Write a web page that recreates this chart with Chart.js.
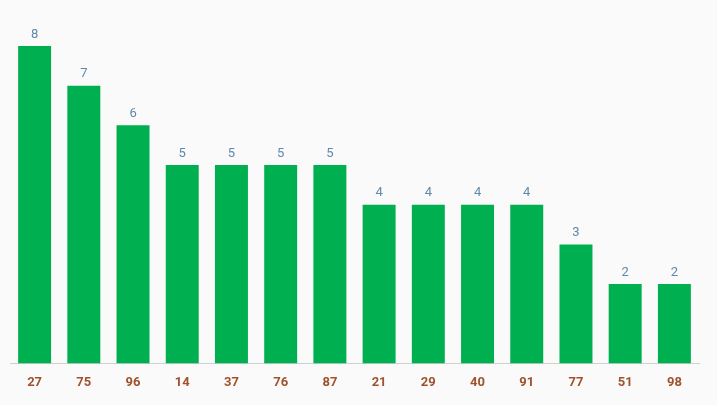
<!DOCTYPE html>
<html>
<head>
<meta charset="utf-8">
<script src="https://cdn.jsdelivr.net/npm/chart.js@4/dist/chart.umd.min.js"></script>
<style>
html,body{margin:0;padding:0;background:#fafafa;}
#wrap{width:717px;height:405px;position:relative;}
</style>
</head>
<body>
<div id="wrap"><canvas id="c"></canvas></div>
<script>
const categories = ["27","75","96","14","37","76","87","21","29","40","91","77","51","98"];
const values = [8,7,6,5,5,5,5,4,4,4,4,3,2,2];

const valueLabels = {
  id: 'valueLabels',
  afterDatasetsDraw(chart) {
    const ctx = chart.ctx;
    const meta = chart.getDatasetMeta(0);
    ctx.save();
    ctx.fillStyle = '#5f89ab';
    ctx.font = '13px Roboto';
    ctx.textAlign = 'center';
    ctx.textBaseline = 'bottom';
    meta.data.forEach((bar, i) => {
      ctx.fillText(String(chart.data.datasets[0].data[i]), bar.x, bar.y - 5);
    });
    ctx.restore();
  }
};

new Chart(document.getElementById('c'), {
  type: 'bar',
  data: {
    labels: categories,
    datasets: [{
      data: values,
      backgroundColor: '#00b050',
      borderWidth: 0,
      categoryPercentage: 1,
      barPercentage: 0.67
    }]
  },
  options: {
    responsive: true,
    maintainAspectRatio: false,
    animation: false,
    layout: { padding: { top: 46, left: 10, right: 18, bottom: 10 } },
    plugins: { legend: { display: false }, tooltip: { enabled: false } },
    scales: {
      x: {
        grid: { display: false },
        border: { display: true, color: '#d0d0d0' },
        ticks: { color: '#a0522d', font: { family: 'Roboto', size: 13, weight: 'bold' }, padding: 4 }
      },
      y: {
        display: false,
        min: 0,
        max: 8
      }
    }
  },
  plugins: [valueLabels]
});
</script>
</body>
</html>
